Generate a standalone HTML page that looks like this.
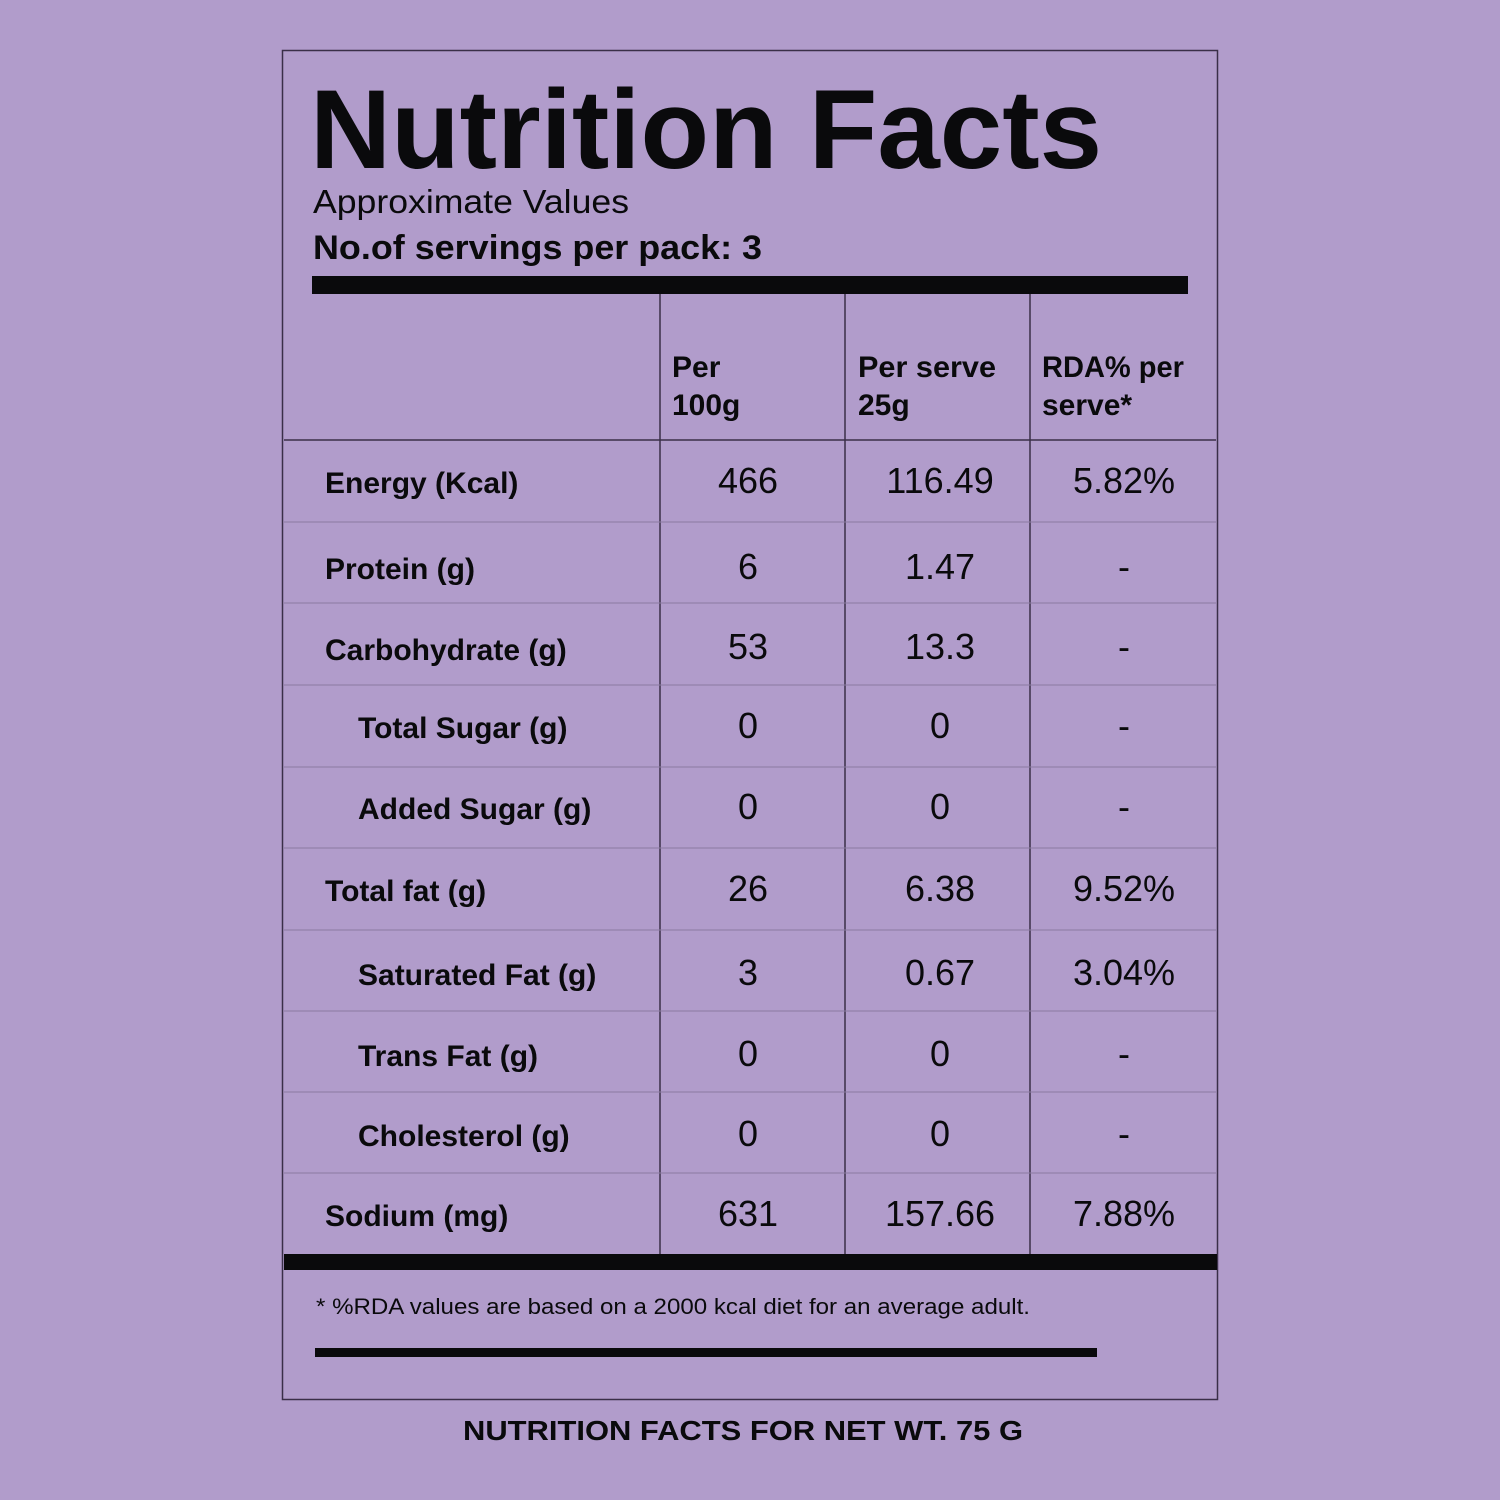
<!DOCTYPE html>
<html><head><meta charset="utf-8"><style>
html,body{margin:0;padding:0;background:#b19ccb;}
svg{display:block}
text{font-family:"Liberation Sans",sans-serif;fill:#0a0a0c}
.b{font-weight:bold}
</style></head><body>
<svg width="1500" height="1500" viewBox="0 0 1500 1500" xmlns="http://www.w3.org/2000/svg">
<rect width="1500" height="1500" fill="#b19ccb"/>
<rect x="282.5" y="50.5" width="935" height="1349" fill="none" stroke="#3a2f48" stroke-width="1.5"/>
<text x="310" y="168" class="b" font-size="112" textLength="792" lengthAdjust="spacingAndGlyphs">Nutrition Facts</text>
<text x="313" y="213" font-size="33" textLength="316" lengthAdjust="spacingAndGlyphs">Approximate Values</text>
<text x="313" y="259" class="b" font-size="34" textLength="449" lengthAdjust="spacingAndGlyphs">No.of servings per pack: 3</text>
<rect x="312" y="276" width="876" height="18" fill="#0a0a0c"/>
<g stroke="#3a2f48" stroke-width="1.5">
<line x1="660" y1="294" x2="660" y2="1254"/>
<line x1="845" y1="294" x2="845" y2="1254"/>
<line x1="1030" y1="294" x2="1030" y2="1254"/>
<line x1="284" y1="440" x2="1216" y2="440"/>
</g>
<g stroke="#8a7aa0" stroke-width="1">
<line x1="284" y1="522" x2="1216" y2="522"/>
<line x1="284" y1="603" x2="1216" y2="603"/>
<line x1="284" y1="685" x2="1216" y2="685"/>
<line x1="284" y1="767" x2="1216" y2="767"/>
<line x1="284" y1="848" x2="1216" y2="848"/>
<line x1="284" y1="930" x2="1216" y2="930"/>
<line x1="284" y1="1011" x2="1216" y2="1011"/>
<line x1="284" y1="1092" x2="1216" y2="1092"/>
<line x1="284" y1="1173" x2="1216" y2="1173"/>
</g>
<g class="b" font-size="30">
<text x="672" y="377">Per</text><text x="672" y="415">100g</text>
<text x="858" y="377" textLength="138" lengthAdjust="spacingAndGlyphs">Per serve</text><text x="858" y="415">25g</text>
<text x="1042" y="377" textLength="142" lengthAdjust="spacingAndGlyphs">RDA% per</text><text x="1042" y="415">serve*</text>
</g>
<g class="b" font-size="30">
<text x="325" y="493">Energy (Kcal)</text>
<text x="325" y="579">Protein (g)</text>
<text x="325" y="660">Carbohydrate (g)</text>
<text x="358" y="738">Total Sugar (g)</text>
<text x="358" y="819">Added Sugar (g)</text>
<text x="325" y="901">Total fat (g)</text>
<text x="358" y="985">Saturated Fat (g)</text>
<text x="358" y="1066">Trans Fat (g)</text>
<text x="358" y="1146">Cholesterol (g)</text>
<text x="325" y="1226">Sodium (mg)</text>
</g>
<g font-size="36" text-anchor="middle">
<text x="748" y="493">466</text><text x="940" y="493">116.49</text><text x="1124" y="493">5.82%</text>
<text x="748" y="579">6</text><text x="940" y="579">1.47</text><text x="1124" y="579">-</text>
<text x="748" y="659">53</text><text x="940" y="659">13.3</text><text x="1124" y="659">-</text>
<text x="748" y="738">0</text><text x="940" y="738">0</text><text x="1124" y="738">-</text>
<text x="748" y="819">0</text><text x="940" y="819">0</text><text x="1124" y="819">-</text>
<text x="748" y="901">26</text><text x="940" y="901">6.38</text><text x="1124" y="901">9.52%</text>
<text x="748" y="985">3</text><text x="940" y="985">0.67</text><text x="1124" y="985">3.04%</text>
<text x="748" y="1066">0</text><text x="940" y="1066">0</text><text x="1124" y="1066">-</text>
<text x="748" y="1146">0</text><text x="940" y="1146">0</text><text x="1124" y="1146">-</text>
<text x="748" y="1226">631</text><text x="940" y="1226">157.66</text><text x="1124" y="1226">7.88%</text>
</g>
<rect x="284" y="1254" width="933" height="16" fill="#0a0a0c"/>
<text x="316" y="1314" font-size="22" textLength="714" lengthAdjust="spacingAndGlyphs">* %RDA values are based on a 2000 kcal diet for an average adult.</text>
<rect x="315" y="1348" width="782" height="9" fill="#0a0a0c"/>
<text x="743" y="1440" class="b" font-size="28" text-anchor="middle" textLength="560" lengthAdjust="spacingAndGlyphs">NUTRITION FACTS FOR NET WT. 75 G</text>
</svg>
</body></html>
